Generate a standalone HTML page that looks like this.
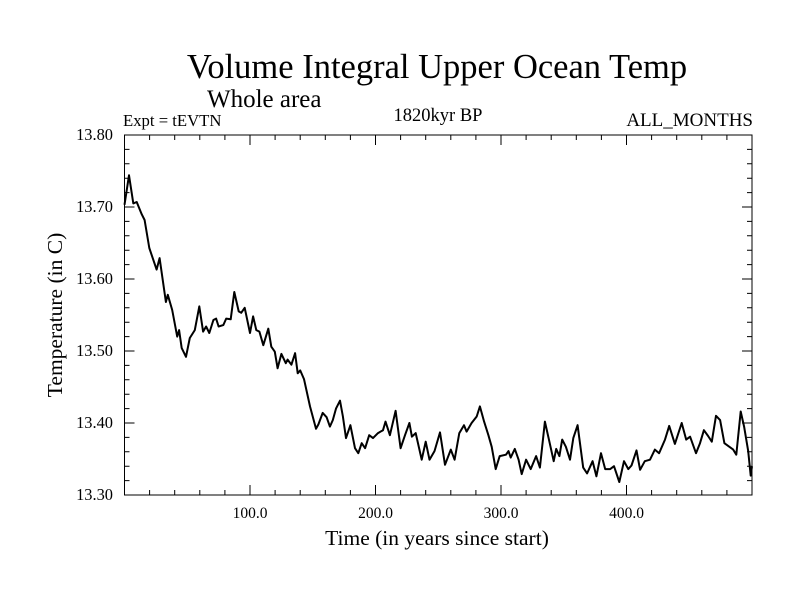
<!DOCTYPE html>
<html><head><meta charset="utf-8"><style>
html,body{margin:0;padding:0;background:#fff;}
svg{display:block;font-family:"Liberation Serif",serif;}
</style></head><body>
<svg id="chart" width="800" height="600" viewBox="0 0 800 600">
<rect width="800" height="600" fill="#fff"/>
<text x="437" y="78" font-size="34.5" text-anchor="middle">Volume Integral Upper Ocean Temp</text>
<text x="207" y="107" font-size="25">Whole area</text>
<text x="123" y="126" font-size="16.7">Expt = tEVTN</text>
<text x="438" y="121" font-size="18.5" text-anchor="middle">1820kyr BP</text>
<text x="753" y="126" font-size="19" text-anchor="end">ALL_MONTHS</text>
<text x="437" y="545" font-size="21.5" text-anchor="middle">Time (in years since start)</text>
<text transform="translate(62,315) rotate(-90)" font-size="21.5" text-anchor="middle">Temperature (in C)</text>
<g id="axes"></g>
<g id="ticks"></g>
<g id="series"></g>
</svg>
<script>
const years=[0,3.6,7,9.7,13.7,16,19.8,25.6,28,33,34.5,38,42,43.5,45.6,49,52,56,59.6,62.6,65,67.6,70.8,73,75,78.7,81,84.6,87.5,91,93,95.8,100,102.5,105,107.5,110.6,114.6,117,119.8,122,125,128.5,130,133,135.9,138,140,143,147.8,152.6,154.5,157.9,161,163.7,166,168.5,171.7,174,176.5,180,183.7,186.3,189,191.7,195,198,202,206,208,211.5,216,220,223.5,227,229,232,236.8,240,243,247,251.4,255.4,260,263,266.8,270.5,272.6,276.6,280.6,283.2,286.5,290,292.6,295.8,299,304,306,307.7,311,314,316.5,320,323.7,328,331,335,338.6,342,344,346.5,348.8,351.7,355,357.6,361,365.5,368.6,373,376,379.7,383,387,390,394.3,398,401.4,404,408,410.8,414.6,418.7,422.6,426,430.7,434,438.6,444,447.6,450.7,455.4,458.6,461.7,465,468,471.3,474.6,478,482,485,487.5,491,493.7,497,499,500];
const temps=[13.703,13.744,13.705,13.707,13.69,13.682,13.643,13.613,13.629,13.568,13.578,13.557,13.52,13.529,13.504,13.492,13.518,13.529,13.562,13.527,13.534,13.525,13.543,13.545,13.534,13.536,13.545,13.544,13.582,13.555,13.553,13.56,13.525,13.548,13.529,13.527,13.508,13.531,13.506,13.499,13.476,13.496,13.483,13.488,13.481,13.497,13.469,13.473,13.461,13.423,13.392,13.398,13.414,13.408,13.395,13.404,13.42,13.431,13.409,13.379,13.397,13.365,13.358,13.372,13.365,13.383,13.379,13.386,13.39,13.402,13.383,13.417,13.365,13.383,13.4,13.381,13.386,13.349,13.374,13.349,13.361,13.387,13.342,13.363,13.349,13.386,13.397,13.388,13.4,13.409,13.423,13.402,13.383,13.367,13.336,13.354,13.356,13.361,13.352,13.364,13.349,13.329,13.349,13.336,13.354,13.338,13.402,13.374,13.347,13.364,13.354,13.377,13.367,13.349,13.379,13.397,13.338,13.33,13.347,13.326,13.358,13.336,13.336,13.34,13.318,13.347,13.336,13.341,13.362,13.335,13.347,13.349,13.363,13.358,13.377,13.396,13.371,13.4,13.377,13.381,13.358,13.372,13.39,13.382,13.374,13.41,13.404,13.372,13.367,13.363,13.356,13.416,13.395,13.361,13.327,13.34];
const xTickVals=[100,200,300,400];
const xTickLabels=["100.0","200.0","300.0","400.0"];
const yTickVals=[13.3,13.4,13.5,13.6,13.7,13.8];
const yTickLabels=["13.30","13.40","13.50","13.60","13.70","13.80"];

const L=124.5,R=752,T=135,B=495,X0=0,X1=500,Y0=13.3,Y1=13.8;
const xs=v=>L+(v-X0)/(X1-X0)*(R-L);
const ys=v=>B-(v-Y0)/(Y1-Y0)*(B-T);
const NS='http://www.w3.org/2000/svg';
function mk(tag,parent){const e=document.createElementNS(NS,tag);parent.appendChild(e);return e;}
const axes=document.getElementById('axes'),ticks=document.getElementById('ticks'),series=document.getElementById('series');

const frame=mk('rect',axes);
frame.setAttribute('x',L);frame.setAttribute('y',T);frame.setAttribute('width',R-L);frame.setAttribute('height',B-T);
frame.setAttribute('fill','none');frame.setAttribute('stroke','#000');frame.setAttribute('stroke-width','1');



let d='';
for(let v=20;v<500;v+=20){const x=xs(v);const len=(v%100===0)?10:5;
 d+=`M${x},${B}v${-len}M${x},${T}v${len}`;}
for(let i=1;i<25;i++){const v=Y0+i*0.02;const y=ys(v);const len=(i%5===0)?10:5;
 d+=`M${L},${y}h${len}M${R},${y}h${-len}`;}
const tk=mk('path',ticks);
tk.setAttribute('d',d);tk.setAttribute('stroke','#000');tk.setAttribute('stroke-width','1');



xTickVals.forEach((v,i)=>{const t=mk('text',ticks);
 t.setAttribute('x',xs(v));t.setAttribute('y',518);t.setAttribute('font-size','15.5');t.setAttribute('text-anchor','middle');
 t.textContent=xTickLabels[i];
 
 });
yTickVals.forEach((v,i)=>{const t=mk('text',ticks);
 t.setAttribute('x',113);t.setAttribute('y',ys(v)+5);t.setAttribute('font-size','16.4');t.setAttribute('text-anchor','end');
 t.textContent=yTickLabels[i];
 
 });

const line=mk('polyline',series);
line.setAttribute('points',years.map((t,i)=>xs(t).toFixed(1)+','+ys(temps[i]).toFixed(1)).join(' '));
line.setAttribute('fill','none');line.setAttribute('stroke','#000');line.setAttribute('stroke-width','2');line.setAttribute('stroke-linejoin','round');


</script>
</body></html>
